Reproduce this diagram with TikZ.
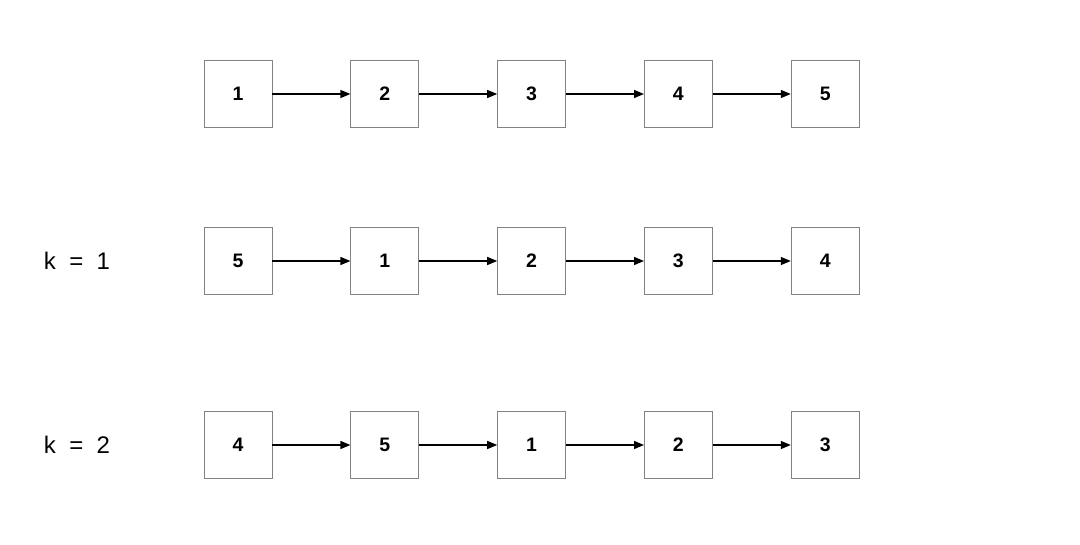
\documentclass[tikz,border=0pt]{standalone}
\usepackage{fontspec}
\setmainfont{Liberation Sans}
\usetikzlibrary{arrows.meta, positioning}
\definecolor{boxgray}{RGB}{130,130,130}

\begin{document}
\begin{tikzpicture}[
  x=1pt, y=1pt,
  node distance=78pt,
  cell/.style={rectangle, draw=boxgray, line width=0.8pt, fill=white, minimum width=68pt, minimum height=67pt, inner sep=0pt, font=\fontsize{19.5}{22}\selectfont\bfseries},
  arrow/.style={-{Triangle[length=10pt, width=8pt]}, line width=1.3pt, black},
  klabel/.style={font=\fontsize{24}{28}\selectfont, anchor=center}
]
  \useasboundingbox (0,0) rectangle (1080,-545);

  % original list
  \node[cell] (a1) at (238,-94) {1};
  \node[cell, right=of a1] (a2) {2};
  \node[cell, right=of a2] (a3) {3};
  \node[cell, right=of a3] (a4) {4};
  \node[cell, right=of a4] (a5) {5};

  % rotate by 1
  \node[klabel] (k1) at (77,-261) {k~~=~~1};
  \node[cell] (b1) at (238,-261) {5};
  \node[cell, right=of b1] (b2) {1};
  \node[cell, right=of b2] (b3) {2};
  \node[cell, right=of b3] (b4) {3};
  \node[cell, right=of b4] (b5) {4};

  % rotate by 2
  \node[klabel] (k2) at (77,-445) {k~~=~~2};
  \node[cell] (c1) at (238,-445) {4};
  \node[cell, right=of c1] (c2) {5};
  \node[cell, right=of c2] (c3) {1};
  \node[cell, right=of c3] (c4) {2};
  \node[cell, right=of c4] (c5) {3};

  % arrows
  \foreach \r in {a,b,c} {
    \draw[arrow] (\r1) -- (\r2);
    \draw[arrow] (\r2) -- (\r3);
    \draw[arrow] (\r3) -- (\r4);
    \draw[arrow] (\r4) -- (\r5);
  }
\end{tikzpicture}
\end{document}
